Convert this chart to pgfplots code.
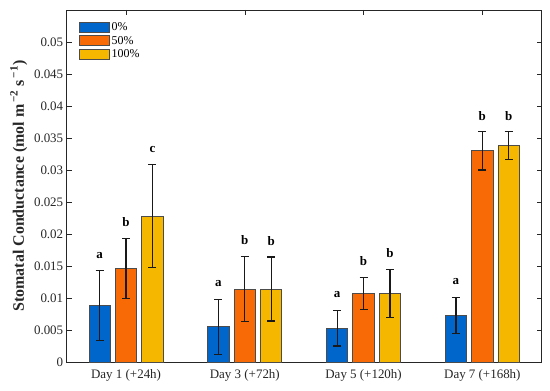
\documentclass[border=0pt]{standalone}
\usepackage{fontspec}
\setmainfont{Liberation Serif}
\usepackage{pgfplots}
\usepackage{pgfplotstable}
\pgfplotsset{compat=1.18}

\definecolor{cblue}{HTML}{0066CC}
\definecolor{corange}{HTML}{F86A05}
\definecolor{cyellow}{HTML}{F6B700}
\definecolor{axgray}{HTML}{262626}

% x y err
\pgfplotstableread{
x y err
0.778 0.0088 0.0055
1.778 0.0055 0.0043
2.778 0.0053 0.0028
3.778 0.0073 0.0028
}\blue
\pgfplotstableread{
x y err
1 0.0146 0.0047
2 0.0114 0.0051
3 0.0107 0.0025
4 0.0330 0.0030
}\orange
\pgfplotstableread{
x y err
1.222 0.0228 0.0080
2.222 0.0114 0.0050
3.222 0.0107 0.0037
4.222 0.0338 0.0022
}\yellow
\pgfplotstableread{
x y lab
0.778 0.0167 a
1 0.0218 b
1.222 0.0332 c
1.778 0.0122 a
2 0.0190 b
2.222 0.0189 b
2.778 0.0106 a
3 0.0157 b
3.222 0.0170 b
3.778 0.0125 a
4 0.0385 b
4.222 0.0385 b
}\letters

\begin{document}
\begin{tikzpicture}
\begin{axis}[
  name=ax,
  width=475bp, height=352bp, scale only axis,
  xmin=0.5, xmax=4.5, ymin=0, ymax=0.055,
  scaled y ticks=false,
  xtick={1,2,3,4},
  xticklabels={Day 1 (+24h),Day 3 (+72h),Day 5 (+120h),Day 7 (+168h)},
  ytick={0,0.005,0.01,0.015,0.02,0.025,0.03,0.035,0.04,0.045,0.05},
  yticklabels={0,0.005,0.01,0.015,0.02,0.025,0.03,0.035,0.04,0.045,0.05},
  tick align=inside,
  major tick length=5bp,
  axis line style={draw=axgray, line width=0.6bp},
  tick style={draw=axgray, line width=0.6bp},
  ticklabel style={font=\fontsize{13}{15}\selectfont, text=axgray},
  xticklabel style={yshift=-4bp},
  ylabel={Stomatal Conductance (mol m\textsuperscript{\,−2} s\textsuperscript{\,−1})},
  ylabel style={font=\fontsize{16}{18}\selectfont\bfseries, text=axgray},
  legend style={at={(axis description cs:0,1)}, anchor=north west,
    xshift=9bp, yshift=-8bp, draw=none, fill=none,
    font=\fontsize{12}{13}\selectfont, row sep=0.5bp},
  legend cell align=left,
  legend image code/.code={\draw[#1, line width=0.8bp] (0bp,-5bp) rectangle (30bp,5bp);},
  error bars/error bar style={line width=1.2bp, draw=black!90},
  error bars/error mark options={rotate=90, draw=black!90, line width=1.2bp, mark size=4bp},
]
\addplot[ybar, bar width=0.18, bar shift=0, fill=cblue, draw=black!70, line width=0.9bp,
  error bars/.cd, y dir=both, y explicit]
  table[x=x, y=y, y error=err] {\blue};
\addlegendentry{0\%}
\addplot[ybar, bar width=0.18, bar shift=0, fill=corange, draw=black!70, line width=0.9bp,
  error bars/.cd, y dir=both, y explicit]
  table[x=x, y=y, y error=err] {\orange};
\addlegendentry{50\%}
\addplot[ybar, bar width=0.18, bar shift=0, fill=cyellow, draw=black!70, line width=0.9bp,
  error bars/.cd, y dir=both, y explicit]
  table[x=x, y=y, y error=err] {\yellow};
\addlegendentry{100\%}
\addplot[only marks, mark=none, forget plot, nodes near coords, point meta=explicit symbolic,
  nodes near coords style={anchor=center, inner sep=0pt, font=\fontsize{13}{15}\selectfont\bfseries, text=black}]
  table[x=x, y=y, meta=lab] {\letters};
\end{axis}
\pgfresetboundingbox
\path[use as bounding box] ([shift={(-66.7bp,-28bp)}]ax.south west) rectangle ([shift={(8.3bp,10bp)}]ax.north east);
\end{tikzpicture}
\end{document}
